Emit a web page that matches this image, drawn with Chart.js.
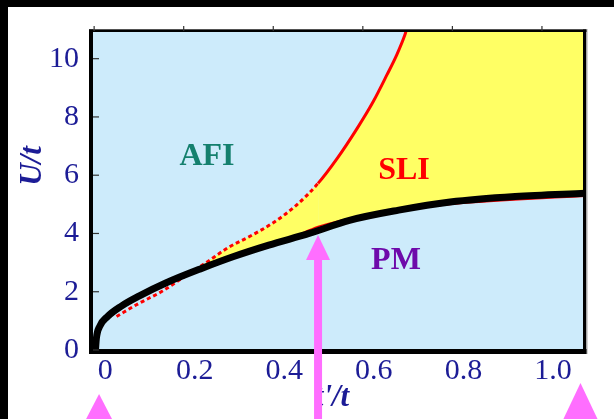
<!DOCTYPE html>
<html>
<head>
<meta charset="utf-8">
<script src="https://cdn.jsdelivr.net/npm/chart.js@4.4.1/dist/chart.umd.min.js"></script>
<style>
  html, body { margin: 0; padding: 0; background: #fff; }
  #wrap { width: 614px; height: 419px; }
</style>
</head>
<body>
<div id="wrap"><canvas id="phase" width="614" height="419"></canvas></div>
<script>
const xTicks = [0, 0.2, 0.4, 0.6, 0.8, 1.0];
const xTickLabels = ['0', '0.2', '0.4', '0.6', '0.8', '1.0'];
const yTicks = [0, 2, 4, 6, 8, 10];

// PM boundary (thick black line)
const pmX = [0.003, 0.005, 0.012, 0.03, 0.06, 0.1, 0.16, 0.24, 0.31, 0.39, 0.48, 0.57, 0.68, 0.795, 0.94, 1.1];
const pmU = [0, 0.4, 0.8, 1.15, 1.5, 1.85, 2.3, 2.8, 3.2, 3.6, 4.0, 4.45, 4.8, 5.08, 5.27, 5.38];

// AFI boundary (red, dashed below t'/t = 0.5), continued above the frame so the SLI fill reaches the top
const afiX = [0.05, 0.1, 0.15, 0.2, 0.25, 0.3, 0.35, 0.4, 0.45, 0.5, 0.542, 0.587, 0.623, 0.654, 0.676, 0.694, 0.71, 1.2];
const afiU = [1.15, 1.6, 2.0, 2.5, 3.0, 3.52, 3.92, 4.37, 4.95, 5.72, 6.56, 7.6, 8.52, 9.45, 10.14, 10.82, 11.6, 11.6];

// thin red edge just along the black line
const edgeX = [0.45, 0.5, 0.55, 0.6, 0.8, 1.1];
const edgeU = [3.92, 4.24, 4.45, 4.6, 5.0, 5.28];

const phaseNames = ['AFI', 'SLI', 'PM'];

const zip = (xs, ys) => xs.map((x, i) => ({ x: x, y: ys[i] }));

const BLUE_TEXT = 'rgb(28,28,150)';
const PINK = 'rgb(255,110,255)';

const decor = {
  id: 'decor',
  beforeDraw(chart) {
    const { ctx, chartArea: a, width, height } = chart;
    ctx.save();
    ctx.fillStyle = '#fff';
    ctx.fillRect(0, 0, width, height);
    ctx.fillStyle = '#000';
    ctx.fillRect(0, 0, width, 7);
    ctx.fillRect(0, 0, 8, height);
    ctx.fillStyle = 'rgb(205,235,251)';
    ctx.fillRect(a.left, a.top, a.right - a.left, a.bottom - a.top);
    ctx.restore();
  },
  afterDatasetsDraw(chart) {
    const { ctx, chartArea: a, scales } = chart;
    const sx = scales.x, sy = scales.y;
    ctx.save();
    // phase names
    ctx.textAlign = 'center';
    ctx.textBaseline = 'middle';
    ctx.font = 'bold 32px "Liberation Serif"';
    const spots = [[0.252, 6.63, 'rgb(20,128,110)'], [0.692, 6.15, 'rgb(255,0,0)'], [0.674, 3.06, 'rgb(110,10,170)']];
    phaseNames.forEach((name, i) => {
      ctx.fillStyle = spots[i][2];
      ctx.fillText(name, sx.getPixelForValue(spots[i][0]), sy.getPixelForValue(spots[i][1]));
    });
    // frame
    ctx.strokeStyle = 'rgba(0,0,0,0.35)';
    ctx.lineWidth = 2;
    ctx.strokeRect(a.left - 1, a.top - 1, a.right - a.left + 3, a.bottom - a.top + 4);
    ctx.fillStyle = '#000';
    ctx.fillRect(a.left - 2, a.top - 1.5, 4, a.bottom - a.top + 5);
    ctx.fillRect(a.left - 2, a.bottom - 1, a.right - a.left + 4, 5);
    ctx.fillRect(a.left - 2, a.top - 1.5, a.right - a.left + 4, 2.5);
    ctx.fillRect(a.right - 1.5, a.top - 1.5, 3, a.bottom - a.top + 5);
    // small ticks
    ctx.strokeStyle = '#333';
    ctx.lineWidth = 1.2;
    yTicks.forEach(v => {
      const y = sy.getPixelForValue(v);
      ctx.beginPath(); ctx.moveTo(a.left + 2, y); ctx.lineTo(a.left + 8, y); ctx.stroke();
    });
    xTicks.forEach(v => {
      const x = sx.getPixelForValue(v);
      ctx.beginPath(); ctx.moveTo(x, a.top - 5); ctx.lineTo(x, a.top); ctx.stroke();
    });
    ctx.restore();
  },
  afterDraw(chart) {
    const { ctx, scales } = chart;
    const sx = scales.x, sy = scales.y;
    ctx.save();
    // axis titles
    ctx.fillStyle = BLUE_TEXT;
    ctx.font = 'bold italic 31px "Liberation Serif"';
    ctx.textAlign = 'center';
    ctx.textBaseline = 'middle';
    ctx.fillText("t'/t", 332, 398);
    ctx.save();
    ctx.translate(33, 166);
    ctx.rotate(-Math.PI / 2);
    ctx.fillText('U/t', 0, 0);
    ctx.restore();
    // arrow pointing at t'/t = 0.5
    ctx.fillStyle = PINK;
    const ax = sx.getPixelForValue(0.5);
    const tip = sy.getPixelForValue(3.95);
    ctx.fillRect(ax - 4, tip + 20, 8, chart.height - tip);
    ctx.beginPath();
    ctx.moveTo(ax, tip); ctx.lineTo(ax + 12, tip + 25); ctx.lineTo(ax - 12, tip + 25); ctx.closePath();
    ctx.fill();
    // markers at the bottom
    const tri = (x, top, w) => {
      ctx.beginPath();
      ctx.moveTo(x, top); ctx.lineTo(x + w / 2, chart.height + 2); ctx.lineTo(x - w / 2, chart.height + 2); ctx.closePath();
      ctx.fill();
    };
    tri(sx.getPixelForValue(0.011), 394, 28);
    tri(sx.getPixelForValue(1.086), 383, 36);
    ctx.restore();
  }
};

new Chart(document.getElementById('phase'), {
  type: 'scatter',
  data: {
    datasets: [
      {
        label: 'PM',
        data: zip(pmX, pmU),
        showLine: true,
        borderColor: '#000',
        borderWidth: 7,
        pointRadius: 0,
        cubicInterpolationMode: 'monotone',
        order: 0
      },
      {
        label: 'AFI',
        data: zip(afiX, afiU),
        showLine: true,
        borderColor: 'rgb(255,0,0)',
        borderWidth: 3,
        pointRadius: 0,
        cubicInterpolationMode: 'monotone',
        fill: { target: 0, above: 'rgb(255,255,100)', below: 'rgba(0,0,0,0)' },
        segment: {
          borderDash: c => (c.p0.parsed.x < 0.49 ? [4, 3] : undefined)
        },
        order: 2
      },
      {
        label: 'edge',
        data: zip(edgeX, edgeU),
        showLine: true,
        borderColor: 'rgb(255,0,0)',
        borderWidth: 1.5,
        pointRadius: 0,
        cubicInterpolationMode: 'monotone',
        order: 1
      }
    ]
  },
  options: {
    responsive: false,
    animation: false,
    layout: { padding: { top: 31, right: 29.5, left: 0, bottom: 0 } },
    plugins: { legend: { display: false }, tooltip: { enabled: false } },
    scales: {
      x: {
        type: 'linear',
        min: -0.007,
        max: 1.095,
        grid: { display: false },
        border: { display: false },
        afterBuildTicks: s => { s.ticks = xTicks.map(v => ({ value: v })); },
        afterFit: s => { s.height = 69; },
        ticks: {
          labelOffset: 11,
          padding: -5,
          color: BLUE_TEXT,
          font: { family: 'Liberation Serif', size: 30 },
          callback: (v, i) => xTickLabels[i]
        }
      },
      y: {
        min: 0,
        max: 10.95,
        grid: { display: false },
        border: { display: false },
        afterBuildTicks: s => { s.ticks = yTicks.map(v => ({ value: v })); },
        afterFit: s => { s.width = 91; },
        ticks: {
          padding: 4,
          color: BLUE_TEXT,
          font: { family: 'Liberation Serif', size: 30 },
          callback: v => String(v)
        }
      }
    }
  },
  plugins: [decor]
});
</script>
</body>
</html>
